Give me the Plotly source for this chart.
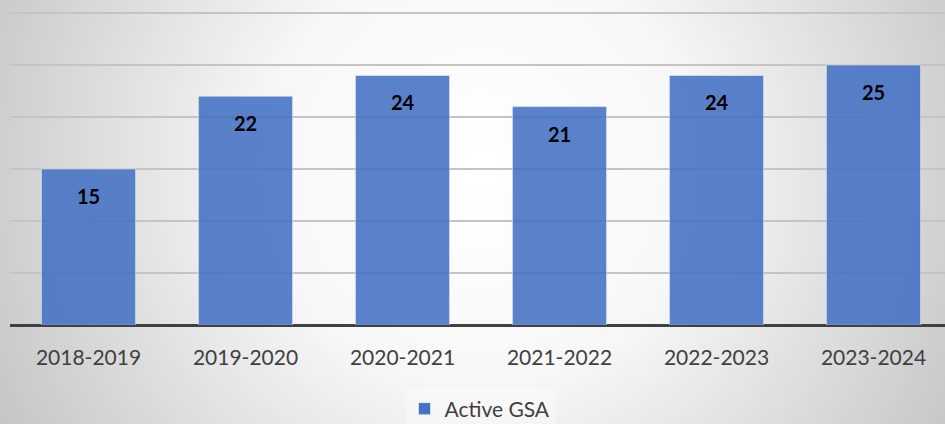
import base64
import plotly.graph_objects as go

categories = ["2018-2019", "2019-2020", "2020-2021", "2021-2022", "2022-2023", "2023-2024"]
values = [15, 22, 24, 21, 24, 25]
series_name = "Active GSA"

W, H = 945, 424
ML, MR, MT, MB = 10, 0, 0, 99

svg = f'''<svg xmlns="http://www.w3.org/2000/svg" width="{W}" height="{H}" viewBox="0 0 {W} {H}" preserveAspectRatio="none">
<defs><radialGradient id="g" gradientUnits="userSpaceOnUse" cx="480" cy="170" r="540">
<stop offset="0" stop-color="#ffffff"/><stop offset="0.4" stop-color="#f7f7f7"/><stop offset="1" stop-color="#c6c6c6"/></radialGradient></defs>
<rect x="0" y="0" width="{W}" height="{H}" fill="url(#g)"/></svg>'''
src = "data:image/svg+xml;base64," + base64.b64encode(svg.encode()).decode()

pw = W - ML - MR
ph = H - MT - MB

fig = go.Figure()
fig.add_trace(go.Bar(
    x=categories, y=values, name=series_name,
    marker=dict(color="#4472c4", opacity=0.88, line=dict(color="rgba(255,255,255,0.5)", width=1)),
    showlegend=True,
))

for c, v in zip(categories, values):
    fig.add_annotation(x=c, y=v, text=f"<b>{v}</b>", showarrow=False, yanchor="middle",
                       yshift=-27, font=dict(family="Lato", size=20, color="#000000"))

fig.add_layout_image(dict(source=src, xref="paper", yref="paper",
                          x=-ML / pw, y=1 + MT / ph, sizex=W / pw, sizey=H / ph,
                          xanchor="left", yanchor="top", sizing="stretch", layer="below"))

fig.update_layout(
    width=W, height=H,
    margin=dict(l=ML, r=MR, t=MT, b=MB, autoexpand=False),
    paper_bgcolor="#d8d8d8", plot_bgcolor="rgba(0,0,0,0)",
    bargap=0.4,
    font=dict(family="Lato", color="#404040"),
    xaxis=dict(range=[-0.5, -0.5 + pw / 157.0], showgrid=False, ticks="",
               showline=False, zeroline=False,
               tickfont=dict(family="Lato", size=21, color="#404040"), ticklabelstandoff=18),
    yaxis=dict(range=[0, ph / 10.4], dtick=5, showticklabels=False, showgrid=True,
               gridcolor="#c4c4c4", gridwidth=1.5, zeroline=True, zerolinecolor="#404040",
               zerolinewidth=3, showline=False),
    legend=dict(orientation="h", x=(480 - ML) / pw, xanchor="center", y=-84 / ph, yanchor="middle",
                bgcolor="rgba(255,255,255,0.35)", font=dict(family="Lato", size=21, color="#404040"),
                itemwidth=30),
)

fig.write_html("out.html", config={"displayModeBar": False},
               post_script="document.body.style.margin='0';document.body.style.padding='0';")
